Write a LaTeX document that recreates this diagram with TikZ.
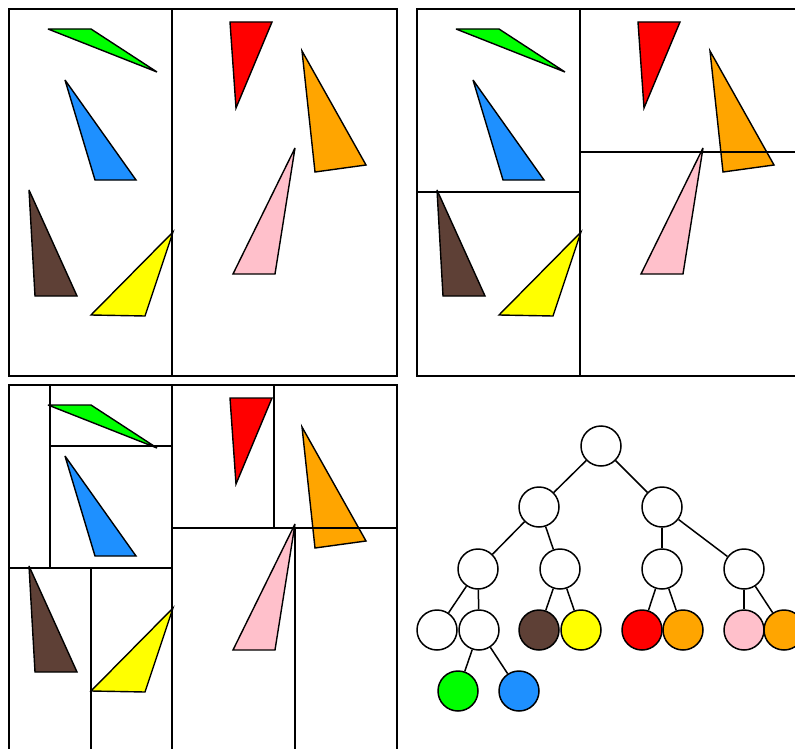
\documentclass[tikz,border=0pt]{standalone}
\begin{document}
\begin{tikzpicture}[x=1pt,y=-1pt,
  frame/.style={draw=black,line width=1.6pt},
  tri/.style={draw=black,line width=1.4pt,miter limit=5},
  tnode/.style={circle,draw=black,line width=1.5pt,minimum size=40pt,inner sep=0pt,fill=white},
  edge/.style={draw=black,line width=1.5pt}]
\definecolor{cgreen}{RGB}{0,255,0}
\definecolor{cblue}{RGB}{30,144,255}
\definecolor{cbrown}{RGB}{94,64,54}
\definecolor{cyellow}{RGB}{255,255,0}
\definecolor{cred}{RGB}{255,0,0}
\definecolor{corange}{RGB}{255,165,0}
\definecolor{cpink}{RGB}{255,192,203}
\newcommand{\mytris}[2]{%
\begin{scope}[shift={(#1,#2)}]
\draw[tri,fill=cgreen] (48,29) -- (91,29) -- (157,72) -- cycle;
\draw[tri,fill=cblue] (65,80) -- (95,180) -- (136,180) -- cycle;
\draw[tri,fill=cbrown] (29,190) -- (35,296) -- (77,296) -- cycle;
\draw[tri,fill=cyellow] (91,315) -- (145,316) -- (173,232) -- cycle;
\draw[tri,fill=cred] (230,22) -- (272,22) -- (236,108) -- cycle;
\draw[tri,fill=corange] (302,51) -- (315,172) -- (366,165) -- cycle;
\draw[tri,fill=cpink] (295,148) -- (275,274) -- (233,274) -- cycle;
\end{scope}}
\useasboundingbox (0,0) rectangle (795,749);
\fill[white] (0,0) rectangle (795,749);
\clip (0,0) rectangle (795,749);
% panel 1
\mytris{0}{0}
\draw[frame] (9,9) rectangle (397,376);
\draw[frame] (172,9) -- (172,376);
% panel 2
\mytris{408}{0}
\draw[frame] (417,9) rectangle (805,376);
\draw[frame] (580,9) -- (580,376);
\draw[frame] (417,192) -- (580,192);
\draw[frame] (580,152) -- (805,152);
% panel 3
\mytris{0}{376}
\draw[frame] (9,385) rectangle (397,752);
\draw[frame] (172,385) -- (172,752);
\draw[frame] (9,568) -- (172,568);
\draw[frame] (50,385) -- (50,568);
\draw[frame] (50,446) -- (172,446);
\draw[frame] (91,568) -- (91,752);
\draw[frame] (172,528) -- (397,528);
\draw[frame] (274,385) -- (274,528);
\draw[frame] (295,528) -- (295,752);
% tree
\node[tnode] (r) at (601,446) {};
\node[tnode] (a) at (539,507) {};
\node[tnode] (b) at (662,507) {};
\node[tnode] (aa) at (478,569) {};
\node[tnode] (ab) at (560,569) {};
\node[tnode] (ba) at (662,569) {};
\node[tnode] (bb) at (744,569) {};
\node[tnode] (aaa) at (437,630) {};
\node[tnode] (aab) at (479,630) {};
\node[tnode,fill=cbrown] (aba) at (539,630) {};
\node[tnode,fill=cyellow] (abb) at (581,630) {};
\node[tnode,fill=cred] (baa) at (642,630) {};
\node[tnode,fill=corange] (bab) at (683,630) {};
\node[tnode,fill=cpink] (bba) at (744,630) {};
\node[tnode,fill=corange] (bbb) at (784,630) {};
\node[tnode,fill=cgreen] (aaba) at (458,691) {};
\node[tnode,fill=cblue] (aabb) at (519,691) {};
\draw[edge] (r) -- (a);
\draw[edge] (r) -- (b);
\draw[edge] (a) -- (aa);
\draw[edge] (a) -- (ab);
\draw[edge] (b) -- (ba);
\draw[edge] (b) -- (bb);
\draw[edge] (aa) -- (aaa);
\draw[edge] (aa) -- (aab);
\draw[edge] (ab) -- (aba);
\draw[edge] (ab) -- (abb);
\draw[edge] (ba) -- (baa);
\draw[edge] (ba) -- (bab);
\draw[edge] (bb) -- (bba);
\draw[edge] (bb) -- (bbb);
\draw[edge] (aab) -- (aaba);
\draw[edge] (aab) -- (aabb);
\end{tikzpicture}
\end{document}
